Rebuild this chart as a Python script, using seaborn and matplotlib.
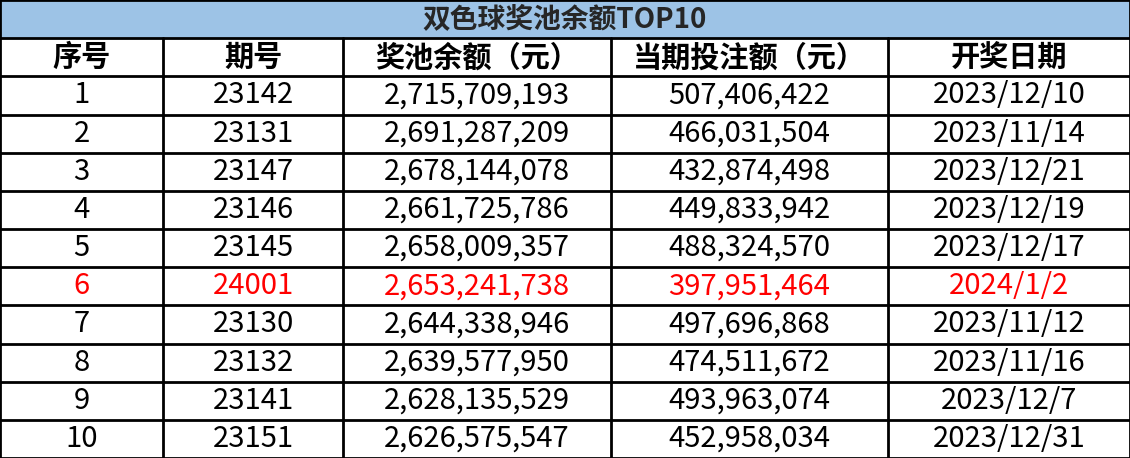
import matplotlib
matplotlib.use("Agg")
import matplotlib.pyplot as plt
import seaborn as sns

sns.set_theme(style="white")
plt.rcParams['font.family'] = ['Noto Sans CJK SC', 'DejaVu Sans']

title = "双色球奖池余额TOP10"
headers = ["序号", "期号", "奖池余额（元）", "当期投注额（元）", "开奖日期"]
rank = ["1", "2", "3", "4", "5", "6", "7", "8", "9", "10"]
issue = ["23142", "23131", "23147", "23146", "23145", "24001", "23130", "23132", "23141", "23151"]
pool = ["2,715,709,193", "2,691,287,209", "2,678,144,078", "2,661,725,786", "2,658,009,357",
        "2,653,241,738", "2,644,338,946", "2,639,577,950", "2,628,135,529", "2,626,575,547"]
sales = ["507,406,422", "466,031,504", "432,874,498", "449,833,942", "488,324,570",
         "397,951,464", "497,696,868", "474,511,672", "493,963,074", "452,958,034"]
dates = ["2023/12/10", "2023/11/14", "2023/12/21", "2023/12/19", "2023/12/17",
         "2024/1/2", "2023/11/12", "2023/11/16", "2023/12/7", "2023/12/31"]
highlight = "24001"

col_edges = [0, 163, 343, 611, 888, 1130]
W, H = 1130, 458
row_h = H / 12

fig = plt.figure(figsize=(11.3, 4.58), dpi=100)
ax = fig.add_axes([0, 0, 1, 1])
ax.set_xlim(0, W)
ax.set_ylim(H, 0)
ax.axis("off")

# title band
ax.add_patch(plt.Rectangle((0, 0), W, row_h, color="#9dc3e6", zorder=0))
ax.text(W / 2, row_h / 2, title, ha="center", va="center", fontsize=20, fontweight="bold")

def row_text(r, values, color="black", bold=False):
    yc = row_h * (r + 1.5)
    for i, v in enumerate(values):
        xc = (col_edges[i] + col_edges[i + 1]) / 2
        ax.text(xc, yc, v, ha="center", va="center", fontsize=21, color=color,
                fontweight="bold" if bold else "normal")

row_text(0, headers, bold=True)
for k in range(len(rank)):
    c = "#ff0000" if issue[k] == highlight else "black"
    row_text(k + 1, [rank[k], issue[k], pool[k], sales[k], dates[k]], color=c)

# grid lines
for r in range(13):
    ax.plot([0, W], [r * row_h, r * row_h], color="black", lw=2)
for x in col_edges:
    y0 = 0 if x in (0, W) else row_h
    ax.plot([x, x], [y0, H], color="black", lw=2)

fig.savefig("out.png", dpi=100)
